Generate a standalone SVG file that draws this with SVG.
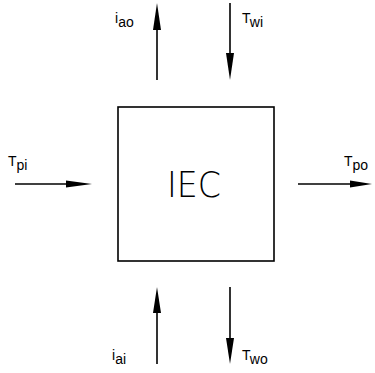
<svg xmlns="http://www.w3.org/2000/svg" width="375" height="373" viewBox="0 0 375 373">
<style>
.ln{stroke:#000;stroke-width:1.6;fill:none}
.ah{fill:#000}
.lb{font-family:"Liberation Sans",Arial,sans-serif;font-size:14px;fill:#000}
.sm{font-size:14px}
.big{font-family:"DejaVu Sans","Liberation Sans",sans-serif;font-weight:200;font-size:35px;fill:#000}
</style>
<rect width="375" height="373" fill="#fff"/>
<g id="IEC">
<rect x="118" y="107" width="156" height="154" class="ln"/>
<text x="194" y="197" class="big" text-anchor="middle" textLength="54" lengthAdjust="spacingAndGlyphs">IEC</text>
</g>
<g id="connectors">
<line x1="157" y1="80" x2="157" y2="25" class="ln"/>
<polygon points="157,3 153,30 161,30" class="ah"/>
<line x1="230" y1="3" x2="230" y2="58" class="ln"/>
<polygon points="230,80 226,53 234,53" class="ah"/>
<line x1="15" y1="184" x2="70" y2="184" class="ln"/>
<polygon points="92,184 66,180.5 66,187.5" class="ah"/>
<line x1="298" y1="184" x2="354" y2="184" class="ln"/>
<polygon points="372,184 350,180.5 350,187.5" class="ah"/>
<line x1="157" y1="364" x2="157" y2="308" class="ln"/>
<polygon points="157,287 153,313 161,313" class="ah"/>
<line x1="230" y1="287" x2="230" y2="342" class="ln"/>
<polygon points="230,364 226,338 234,338" class="ah"/>
</g>
<g id="label-iao"><text class="lb" x="115" y="27"><tspan class="sm" dy="-4">i</tspan><tspan dy="4">ao</tspan></text></g>
<g id="label-Twi"><text class="lb" x="242" y="27"><tspan class="sm" dy="-4">T</tspan><tspan dy="4">wi</tspan></text></g>
<g id="label-Tpi"><text class="lb" x="8" y="170"><tspan class="sm" dy="-4">T</tspan><tspan dy="4">pi</tspan></text></g>
<g id="label-Tpo"><text class="lb" x="344" y="170"><tspan class="sm" dy="-4">T</tspan><tspan dy="4">po</tspan></text></g>
<g id="label-iai"><text class="lb" x="112" y="364"><tspan class="sm" dy="-4">i</tspan><tspan dy="4">ai</tspan></text></g>
<g id="label-Two"><text class="lb" x="242" y="364"><tspan class="sm" dy="-4">T</tspan><tspan dy="4">wo</tspan></text></g>
</svg>
